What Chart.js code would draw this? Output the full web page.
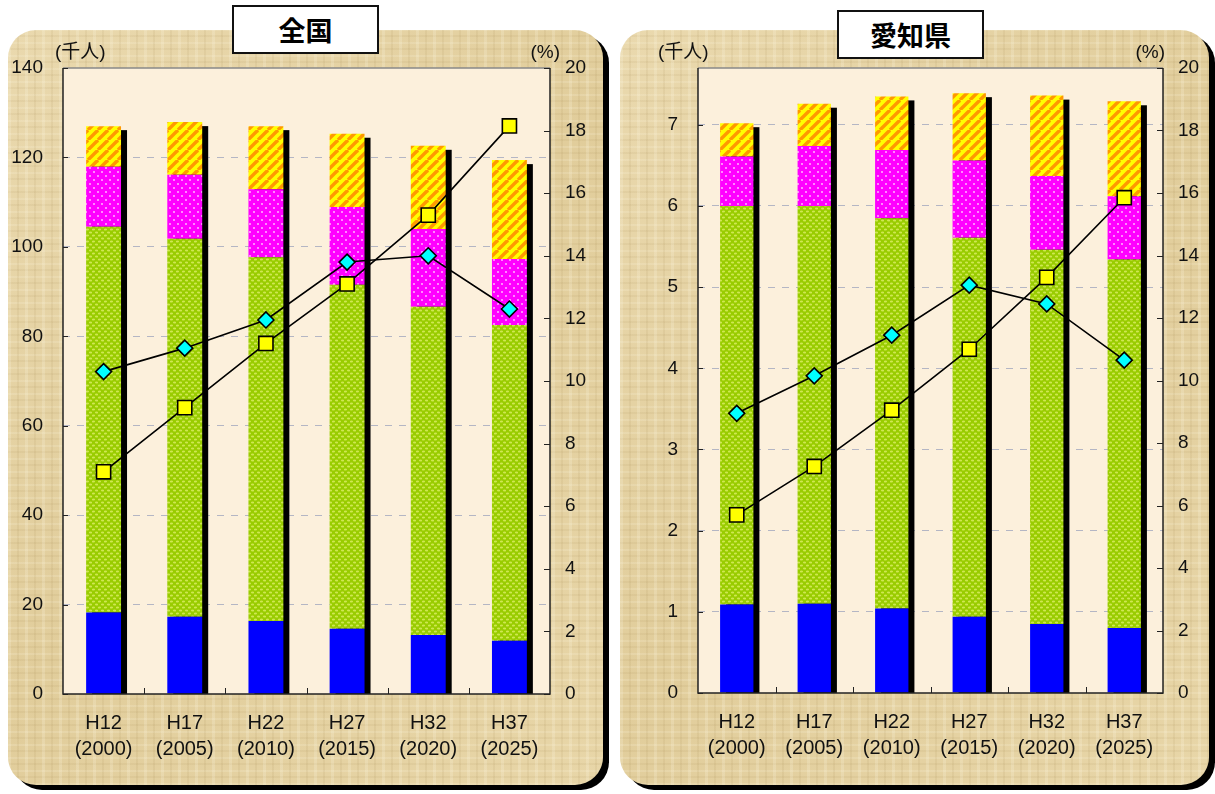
<!DOCTYPE html>
<html lang="ja">
<head>
<meta charset="utf-8">
<title>年齢区分別人口の推移</title>
<script src="https://cdn.jsdelivr.net/npm/chart.js@4/dist/chart.umd.min.js"></script>
<style>
  body {
    margin: 0;
    width: 1215px;
    height: 794px;
    background: #fff;
    position: relative;
    overflow: hidden;
    font-family: 'Liberation Sans', Arial, 'Noto Sans CJK JP', sans-serif;
  }
  .panel {
    position: absolute;
    top: 30px;
    height: 755px;
    border-radius: 28px;
    box-shadow: 6px 5px 0 #000;
    background-color: #E6D3A3;
    background-image:
      repeating-linear-gradient(90deg, rgba(255,250,230,0.20) 0 3px, rgba(0,0,0,0) 3px 9px, rgba(140,110,50,0.08) 9px 11px, rgba(0,0,0,0) 11px 17px),
      repeating-linear-gradient(0deg, rgba(255,250,230,0.16) 0 2px, rgba(0,0,0,0) 2px 7px, rgba(140,110,50,0.07) 7px 9px, rgba(0,0,0,0) 9px 13px),
      linear-gradient(135deg, #EAD9AE, #E1CD9B 50%, #E8D6A8);
  }
  #panelNat { left: 8px; width: 595px; }
  #panelAichi { left: 620px; width: 589px; }
  .panel canvas { position: absolute; left: 0; top: 0; }
  .title {
    position: absolute;
    z-index: 2;
    width: 143px;
    height: 45px;
    line-height: 45px;
    background: #fff;
    border: 2px solid #111;
    text-align: center;
    font-family: 'Noto Sans CJK JP', sans-serif;
    font-weight: 700;
    font-size: 27px;
    color: #000;
  }
</style>
</head>
<body>
<div class="title" style="left:232px; top:5px;">全国</div>
<div class="title" style="left:837px; top:10px;">愛知県</div>
<div class="panel" id="panelNat"><canvas id="natChart" width="595" height="755"></canvas></div>
<div class="panel" id="panelAichi"><canvas id="aichiChart" width="589" height="755"></canvas></div>

<script>
const years = [['H12', '(2000)'], ['H17', '(2005)'], ['H22', '(2010)'], ['H27', '(2015)'], ['H32', '(2020)'], ['H37', '(2025)']];

// 全国
const natUnder15 = [18.2, 17.3, 16.3, 14.6, 13.2, 11.9];
const nat15to64  = [86.3, 84.5, 81.4, 76.9, 73.4, 70.6];
const nat65to74  = [13.4, 14.3, 15.2, 17.4, 17.4, 14.8];
const nat75plus  = [9.1, 11.8, 14.1, 16.4, 18.6, 22.1];
const natRate65to74 = [10.3, 11.05, 11.95, 13.8, 14.0, 12.3];
const natRate75plus = [7.1, 9.15, 11.2, 13.1, 15.3, 18.15];
const natTicks = [0, 20, 40, 60, 80, 100, 120, 140];

// 愛知県
const aichiUnder15 = [1.09, 1.10, 1.04, 0.94, 0.85, 0.80];
const aichi15to64  = [4.91, 4.90, 4.81, 4.67, 4.61, 4.54];
const aichi65to74  = [0.61, 0.74, 0.84, 0.95, 0.91, 0.78];
const aichi75plus  = [0.41, 0.52, 0.66, 0.83, 0.99, 1.17];
const aichiRate65to74 = [8.95, 10.15, 11.45, 13.05, 12.45, 10.65];
const aichiRate75plus = [5.7, 7.25, 9.05, 11.0, 13.3, 15.85];
const aichiTicks = [0, 1, 2, 3, 4, 5, 6, 7];

const rateTicks = [0, 2, 4, 6, 8, 10, 12, 14, 16, 18, 20];

const FONT = "'Liberation Sans', Arial, 'Noto Sans CJK JP', sans-serif";

function tile(w, h, paint) {
  const c = document.createElement('canvas');
  c.width = w; c.height = h;
  const g = c.getContext('2d');
  paint(g, w, h);
  return g.createPattern(c, 'repeat');
}

// fill patterns for the four age groups
const greenFill = tile(6, 6, (g) => {
  g.fillStyle = '#99CC00';
  g.fillRect(0, 0, 6, 6);
  g.fillStyle = 'rgba(225,240,110,0.75)';
  g.beginPath(); g.ellipse(1.5, 1.5, 1.6, 1.0, 0, 0, Math.PI * 2); g.fill();
  g.beginPath(); g.ellipse(4.5, 4.5, 1.6, 1.0, 0, 0, Math.PI * 2); g.fill();
});
const pinkFill = tile(8, 8, (g) => {
  g.fillStyle = '#FF00FF';
  g.fillRect(0, 0, 8, 8);
  g.fillStyle = 'rgba(255,170,255,0.8)';
  g.fillRect(1, 1, 2, 2);
  g.fillRect(5, 5, 2, 2);
});
const stripeFill = tile(10, 10, (g) => {
  g.fillStyle = '#FFFF00';
  g.fillRect(0, 0, 10, 10);
  g.strokeStyle = '#FF9900';
  g.lineWidth = 3.4;
  [[-10, 10, 0, 0], [0, 10, 10, 0], [10, 10, 20, 0]].forEach(([x1, y1, x2, y2]) => {
    g.beginPath(); g.moveTo(x1, y1); g.lineTo(x2, y2); g.stroke();
  });
});

const framePlugin = {
  id: 'frame',
  beforeDraw(chart) {
    const { ctx, chartArea: a } = chart;
    ctx.save();
    ctx.fillStyle = '#FCF0DC';
    ctx.fillRect(a.left, a.top, a.right - a.left, a.bottom - a.top);
    ctx.restore();
  },
  beforeDatasetsDraw(chart) {
    // black drop shadow behind each stacked column
    const { ctx, chartArea: a } = chart;
    const metas = chart.getSortedVisibleDatasetMetas().filter(m => m.type === 'bar');
    if (!metas.length) return;
    ctx.save();
    ctx.beginPath();
    ctx.rect(a.left, a.top, a.right - a.left, a.bottom - a.top);
    ctx.clip();
    ctx.fillStyle = '#000';
    metas[0].data.forEach((el, i) => {
      let top = a.bottom;
      metas.forEach(m => { top = Math.min(top, m.data[i].y); });
      const left = el.x - el.width / 2;
      ctx.fillRect(left + 6, top + 4, el.width, a.bottom - top);
    });
    ctx.restore();
  },
  afterDraw(chart, args, opts) {
    const { ctx, chartArea: a, scales } = chart;
    ctx.save();
    // plot frame
    ctx.lineWidth = 1.5;
    ctx.strokeStyle = '#888';
    ctx.beginPath(); ctx.moveTo(a.left, a.top); ctx.lineTo(a.right, a.top); ctx.stroke();
    ctx.strokeStyle = '#222';
    ctx.beginPath();
    ctx.moveTo(a.left, a.top); ctx.lineTo(a.left, a.bottom);
    ctx.lineTo(a.right, a.bottom); ctx.lineTo(a.right, a.top);
    ctx.stroke();
    // inward tick marks
    ctx.lineWidth = 1;
    ctx.strokeStyle = '#222';
    ctx.beginPath();
    scales.y.ticks.forEach(t => {
      const y = Math.round(scales.y.getPixelForValue(t.value)) + 0.5;
      ctx.moveTo(a.left, y); ctx.lineTo(a.left + 5, y);
    });
    scales.y1.ticks.forEach(t => {
      const y = Math.round(scales.y1.getPixelForValue(t.value)) + 0.5;
      ctx.moveTo(a.right - 6, y); ctx.lineTo(a.right, y);
    });
    const n = chart.data.labels.length;
    const step = (a.right - a.left) / n;
    for (let i = 1; i < n; i++) {
      const x = Math.round(a.left + step * i) + 0.5;
      ctx.moveTo(x, a.bottom); ctx.lineTo(x, a.bottom - 6);
    }
    ctx.stroke();
    // unit captions
    ctx.fillStyle = '#111';
    ctx.font = '19px ' + FONT;
    ctx.textBaseline = 'alphabetic';
    ctx.textAlign = 'left';
    ctx.fillText('(千人)', opts.leftUnitX, 28);
    ctx.textAlign = 'right';
    ctx.fillText('(%)', opts.rightUnitX, 28);
    ctx.restore();
  }
};

function makeChart(id, parts, rates, leftMax, leftTicks, axisWidths, units) {
  const barColors = ['#0000FF', greenFill, pinkFill, stripeFill];
  const bars = parts.map((d, i) => ({
    type: 'bar',
    data: d,
    backgroundColor: barColors[i],
    borderWidth: 0,
    yAxisID: 'y',
    order: 2,
    categoryPercentage: 1,
    barPercentage: 0.43
  }));
  const lines = [
    { data: rates[0], pointStyle: 'rectRot', pointRadius: 8, pointBackgroundColor: '#00FFFF' },
    { data: rates[1], pointStyle: 'rect', pointRadius: 10, pointBackgroundColor: '#FFFF00' }
  ].map(l => Object.assign({
    type: 'line',
    yAxisID: 'y1',
    order: 1,
    borderColor: '#000',
    borderWidth: 1.6,
    pointBorderColor: '#000',
    pointBorderWidth: 1.6,
    fill: false,
    tension: 0
  }, l));

  return new Chart(document.getElementById(id), {
    data: { labels: years, datasets: bars.concat(lines) },
    plugins: [framePlugin],
    options: {
      responsive: false,
      animation: false,
      events: [],
      layout: { padding: { top: 38, left: 0, right: 0, bottom: 0 } },
      plugins: {
        legend: { display: false },
        tooltip: { enabled: false },
        frame: units
      },
      scales: {
        x: {
          stacked: true,
          offset: true,
          grid: { display: false, drawTicks: false },
          border: { display: false },
          ticks: { color: '#111', font: { size: 20, family: FONT, lineHeight: 1.32 }, padding: 16, maxRotation: 0, autoSkip: false },
          afterFit: s => { s.height = axisWidths.bottom; }
        },
        y: {
          stacked: true,
          position: 'left',
          min: 0,
          max: leftMax,
          afterBuildTicks: s => { s.ticks = leftTicks.map(v => ({ value: v })); },
          grid: {
            drawTicks: false,
            lineWidth: 1,
            color: c => (c.tick.value === 0 || c.tick.value === leftMax) ? 'rgba(0,0,0,0)' : '#B4B6C4'
          },
          border: { display: false, dash: [7, 7] },
          ticks: { color: '#111', font: { size: 19, family: FONT }, padding: 20 },
          afterFit: s => { s.width = axisWidths.left; }
        },
        y1: {
          position: 'right',
          min: 0,
          max: 20,
          afterBuildTicks: s => { s.ticks = rateTicks.map(v => ({ value: v })); },
          grid: { display: false, drawTicks: false },
          border: { display: false },
          ticks: { color: '#111', font: { size: 19, family: FONT }, padding: 15 },
          afterFit: s => { s.width = axisWidths.right; }
        }
      }
    }
  });
}

makeChart('natChart',
  [natUnder15, nat15to64, nat65to74, nat75plus],
  [natRate65to74, natRate75plus],
  140, natTicks,
  { left: 55, right: 53, bottom: 91 },
  { leftUnitX: 47, rightUnitX: 552 });

makeChart('aichiChart',
  [aichiUnder15, aichi15to64, aichi65to74, aichi75plus],
  [aichiRate65to74, aichiRate75plus],
  7.7, aichiTicks,
  { left: 78, right: 46, bottom: 92 },
  { leftUnitX: 38, rightUnitX: 545 });
</script>
</body>
</html>
